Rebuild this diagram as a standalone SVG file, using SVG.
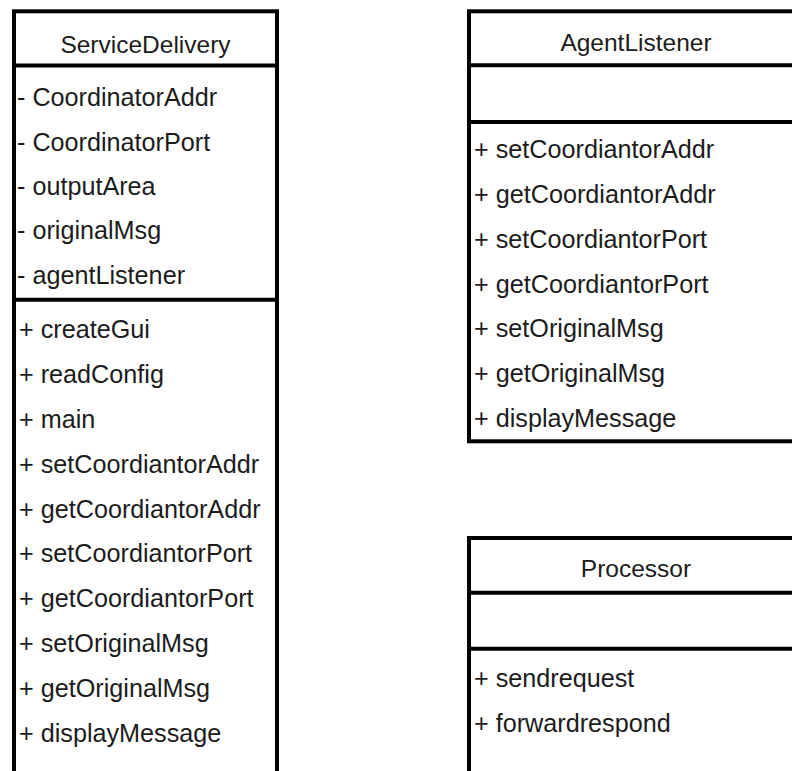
<svg xmlns="http://www.w3.org/2000/svg" width="792" height="771" viewBox="0 0 792 771">
  <style>
    .box { fill: #ffffff; stroke: #000000; stroke-width: 4; }
    .sep { stroke: #000000; stroke-width: 4; fill: none; }
    text { font-family: "Liberation Sans", Arial, sans-serif; font-size: 25.2px; fill: #1c1c1c; }
    .title { text-anchor: middle; font-size: 24.5px; }
  </style>
  <rect width="792" height="771" fill="#ffffff"/>

  <!-- ServiceDelivery class (box runs past the bottom edge) -->
  <g id="ServiceDelivery">
    <rect class="box" x="14" y="11.3" width="263" height="800"/>
    <line class="sep" x1="14" y1="65.5" x2="277" y2="65.5"/>
    <line class="sep" x1="14" y1="299.7" x2="277" y2="299.7"/>
    <text class="title" x="145.5" y="53">ServiceDelivery</text>
    <text x="17" y="106">- CoordinatorAddr</text>
    <text x="17" y="150.5">- CoordinatorPort</text>
    <text x="17" y="195">- outputArea</text>
    <text x="17" y="239">- originalMsg</text>
    <text x="17" y="283.5">- agentListener</text>
    <text x="19" y="338">+ createGui</text>
    <text x="19" y="383">+ readConfig</text>
    <text x="19" y="428">+ main</text>
    <text x="19" y="473">+ setCoordiantorAddr</text>
    <text x="19" y="518">+ getCoordiantorAddr</text>
    <text x="19" y="562">+ setCoordiantorPort</text>
    <text x="19" y="607">+ getCoordiantorPort</text>
    <text x="19" y="652">+ setOriginalMsg</text>
    <text x="19" y="697">+ getOriginalMsg</text>
    <text x="19" y="742">+ displayMessage</text>
  </g>

  <!-- AgentListener class (box runs past the right edge) -->
  <g id="AgentListener">
    <rect class="box" x="469" y="11.3" width="334" height="430"/>
    <line class="sep" x1="469" y1="65.3" x2="803" y2="65.3"/>
    <line class="sep" x1="469" y1="122" x2="803" y2="122"/>
    <text class="title" x="636" y="51">AgentListener</text>
    <text x="474" y="158">+ setCoordiantorAddr</text>
    <text x="474" y="203">+ getCoordiantorAddr</text>
    <text x="474" y="248">+ setCoordiantorPort</text>
    <text x="474" y="293">+ getCoordiantorPort</text>
    <text x="474" y="337">+ setOriginalMsg</text>
    <text x="474" y="382">+ getOriginalMsg</text>
    <text x="474" y="427">+ displayMessage</text>
  </g>

  <!-- Processor class (box runs past the right and bottom edges) -->
  <g id="Processor">
    <rect class="box" x="469" y="538" width="334" height="300"/>
    <line class="sep" x1="469" y1="592.7" x2="803" y2="592.7"/>
    <line class="sep" x1="469" y1="648.7" x2="803" y2="648.7"/>
    <text class="title" x="636" y="577">Processor</text>
    <text x="474" y="687">+ sendrequest</text>
    <text x="474" y="732">+ forwardrespond</text>
  </g>

  <!-- no associations are drawn between the classes -->
  <g id="connectors"></g>
</svg>
